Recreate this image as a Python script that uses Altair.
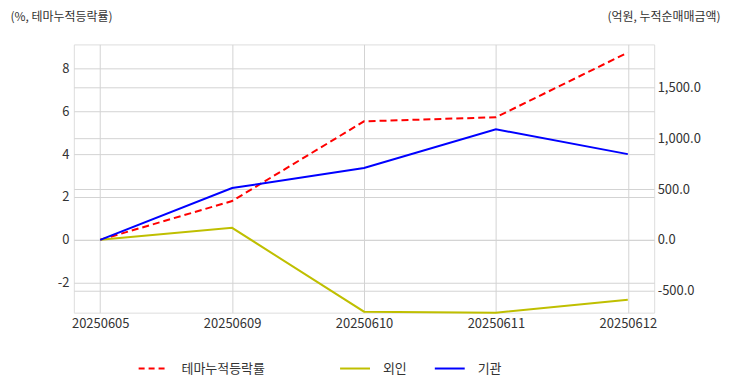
import altair as alt
import pandas as pd

dates = ["20250605", "20250609", "20250610", "20250611", "20250612"]
theme = [0.0, 1.81, 5.53, 5.72, 8.74]
foreign = [0.0, 118.0, -706.0, -716.0, -588.0]
inst = [0.0, 510.0, 706.0, 1088.0, 843.0]

FONT = "Noto Sans CJK KR"
GRID = "#d3d3d3"
LBL = "#333333"

df_left = pd.DataFrame({"date": dates, "value": theme, "series": "테마누적등락률"})
df_right = pd.concat([
    pd.DataFrame({"date": dates, "value": foreign, "series": "외인", "ord": 0}),
    pd.DataFrame({"date": dates, "value": inst, "series": "기관", "ord": 1}),
])

xenc = alt.X("date:N", sort=dates,
             scale=alt.Scale(type="point", padding=0.2),
             axis=alt.Axis(title=None, labelAngle=0, ticks=False, labelPadding=5,
                           grid=True, gridColor=GRID, domain=False,
                           labelFont=FONT, labelFontSize=13, labelColor=LBL))

left = alt.Chart(df_left).mark_line(strokeWidth=2, strokeDash=[7, 4]).encode(
    x=xenc,
    y=alt.Y("value:Q",
            scale=alt.Scale(domain=[-3.4, 9.12], nice=False, zero=False),
            axis=alt.Axis(orient="left", values=[-2, 0, 2, 4, 6, 8], format="d",
                          labelExpr="replace(datum.label, '\u2212', '-')",
                          title="(%, 테마누적등락률)", titleAngle=0, titleAlign="left",
                          titleBaseline="alphabetic", titleX=-64, titleY=-24,
                          titleFont=FONT, titleFontSize=12, titleFontWeight="normal",
                          titleColor=LBL, ticks=False, domain=False, labelPadding=5,
                          grid=True, gridColor=GRID,
                          labelFont=FONT, labelFontSize=13, labelColor=LBL)),
    color=alt.Color("series:N",
                    scale=alt.Scale(domain=["테마누적등락률"], range=["#ff0000"]),
                    legend=alt.Legend(title=None, orient="none", legendX=64, legendY=309,
                                      direction="horizontal", symbolType="stroke",
                                      symbolSize=900, symbolStrokeWidth=2,
                                      symbolDash=[6, 4], labelOffset=12,
                                      labelFont=FONT, labelFontSize=13, labelColor=LBL)),
)

right = alt.Chart(df_right).mark_line(strokeWidth=2).encode(
    x=xenc,
    y=alt.Y("value:Q",
            scale=alt.Scale(domain=[-716, 1922], nice=False, zero=False),
            axis=alt.Axis(orient="right", values=[-500, 0, 500, 1000, 1500], format=",.1f",
                          labelExpr="replace(datum.label, '\u2212', '-')",
                          title="(억원, 누적순매매금액)", titleAngle=0, titleAlign="right",
                          titleBaseline="alphabetic", titleX=66, titleY=-24,
                          titleFont=FONT, titleFontSize=12, titleFontWeight="normal",
                          titleColor=LBL, ticks=False, domain=False, labelPadding=3,
                          grid=True, gridColor=GRID,
                          labelFont=FONT, labelFontSize=13, labelColor=LBL)),
    color=alt.Color("series:N",
                    scale=alt.Scale(domain=["외인", "기관"], range=["#bfbf00", "#0000ff"]),
                    legend=alt.Legend(title=None, orient="none", legendX=266, legendY=309,
                                      direction="horizontal", symbolType="stroke",
                                      symbolSize=900, symbolStrokeWidth=2,
                                      labelOffset=12, columnPadding=24,
                                      labelFont=FONT, labelFontSize=13, labelColor=LBL)),
    detail="ord:O",
)

chart = alt.layer(left, right).resolve_scale(y="independent", color="independent").properties(
    width=582, height=269,
    autosize=alt.AutoSizeParams(type="none"),
    padding={"left": 66, "top": 36, "right": 70, "bottom": 70},
).configure_view(stroke="#cccccc", strokeWidth=1.5).configure(background="white")

chart.save("out.html", embed_options={"renderer": "svg", "actions": False})
